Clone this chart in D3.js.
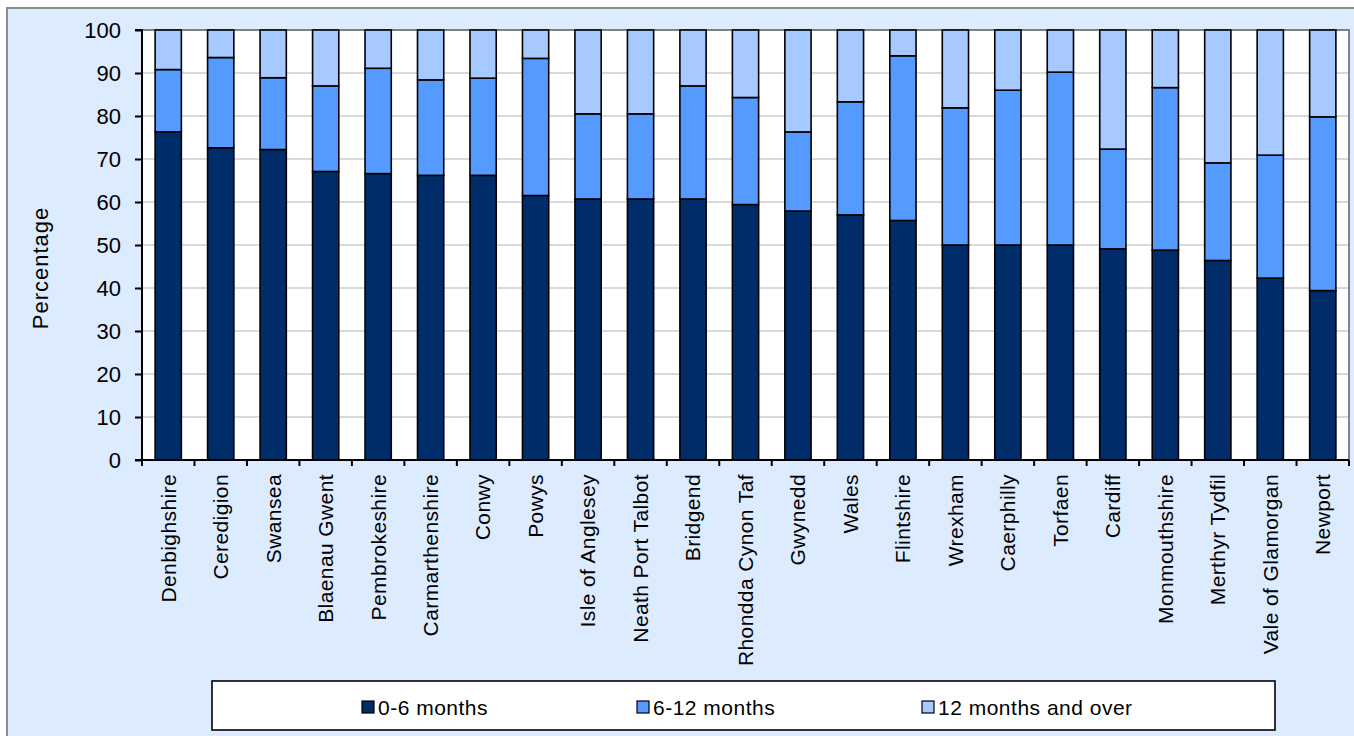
<!DOCTYPE html>
<html>
<head>
<meta charset="utf-8">
<script src="https://cdn.jsdelivr.net/npm/d3@7"></script>
<style>
  body { margin: 0; background: #fff; }
  text { font-family: Arial, "Liberation Sans", sans-serif; fill: #000; }
</style>
</head>
<body>
<svg id="chart"></svg>
<script>
var w = 1354;
var h = 736;

// data
var areas = ["Denbighshire", "Ceredigion", "Swansea", "Blaenau Gwent", "Pembrokeshire",
  "Carmarthenshire", "Conwy", "Powys", "Isle of Anglesey", "Neath Port Talbot", "Bridgend",
  "Rhondda Cynon Taf", "Gwynedd", "Wales", "Flintshire", "Wrexham", "Caerphilly", "Torfaen",
  "Cardiff", "Monmouthshire", "Merthyr Tydfil", "Vale of Glamorgan", "Newport"];
var m0_6 = [76.3, 72.6, 72.2, 67.1, 66.6, 66.2, 66.2, 61.5, 60.7, 60.7, 60.7, 59.4, 57.9,
  57.0, 55.7, 50.0, 50.0, 50.0, 49.1, 48.8, 46.4, 42.3, 39.4];
var m6_12 = [14.5, 21.0, 16.7, 19.9, 24.5, 22.2, 22.6, 31.9, 19.8, 19.8, 26.3, 24.9, 18.4,
  26.3, 38.3, 31.9, 36.0, 40.2, 23.2, 37.8, 22.7, 28.6, 40.4];
var m12plus = m0_6.map((d, i) => +(100 - d - m6_12[i]).toFixed(1));
var seriesNames = ["0-6 months", "6-12 months", "12 months and over"];
var colors = ["#002D6A", "#559BFF", "#A6CAFF"];
var yTicks = [0, 10, 20, 30, 40, 50, 60, 70, 80, 90, 100];

var pLeft = 142, pRight = 1349, pTop = 30, pBottom = 460;

let svg = d3.select("#chart")
    .attr("width", w)
    .attr("height", h);

// outer chart area
svg.append("rect")
    .attr("x", 7).attr("y", 8)
    .attr("width", w).attr("height", h)
    .attr("fill", "#DDEBFF")
    .attr("stroke", "#8c8c8c")
    .attr("stroke-width", 2);

let xScale = d3.scaleBand()
    .domain(areas)
    .range([pLeft, pRight])
    .paddingInner(0.5)
    .paddingOuter(0.25);
let yScale = d3.scaleLinear()
    .domain([0, 100])
    .range([pBottom, pTop]);

// plot area
svg.append("rect")
    .attr("x", pLeft).attr("y", pTop)
    .attr("width", pRight - pLeft).attr("height", pBottom - pTop)
    .attr("fill", "#fff");
svg.append("path")
    .attr("d", `M${pLeft},${pTop}H${pRight}V${pBottom}`)
    .attr("fill", "none")
    .attr("stroke", "#808080")
    .attr("stroke-width", 2);

// gridlines
svg.append("g")
    .selectAll("line")
    .data(yTicks.filter(d => d > 0 && d < 100))
    .join("line")
    .attr("x1", pLeft).attr("x2", pRight - 1)
    .attr("y1", d => yScale(d)).attr("y2", d => yScale(d))
    .attr("stroke", "#d9d9d9")
    .attr("stroke-width", 2);

// stacked bars
let table = areas.map((a, i) => ({ area: a, s0: m0_6[i], s1: m6_12[i], s2: m12plus[i] }));
let stack = d3.stack().keys(["s0", "s1", "s2"])(table);

svg.append("g")
    .selectAll("g")
    .data(stack)
    .join("g")
    .attr("fill", (d, i) => colors[i])
    .selectAll("rect")
    .data(d => d)
    .join("rect")
    .attr("x", d => xScale(d.data.area))
    .attr("width", xScale.bandwidth())
    .attr("y", d => yScale(d[1]))
    .attr("height", d => yScale(d[0]) - yScale(d[1]))
    .attr("stroke", "#000")
    .attr("stroke-width", 1.6);

// y axis
let yAxis = d3.axisLeft(yScale)
    .tickValues(yTicks)
    .tickSize(7)
    .tickPadding(14);
let gy = svg.append("g")
    .attr("transform", `translate(${pLeft},0)`)
    .call(yAxis);
gy.selectAll("text").style("font-size", "22px").attr("dy", "0.36em");
gy.selectAll("line, path").attr("stroke", "#000").attr("stroke-width", 2);
gy.select(".domain").attr("d", `M-7,${pBottom}H0V${pTop}H-7`);

// x axis with ticks on band boundaries
svg.append("line")
    .attr("x1", pLeft - 7).attr("x2", pRight)
    .attr("y1", pBottom).attr("y2", pBottom)
    .attr("stroke", "#000").attr("stroke-width", 2);
let step = xScale.step();
let bounds = areas.map(a => xScale(a) - step * 0.25).concat([pRight]);
svg.append("g")
    .selectAll("line")
    .data(bounds)
    .join("line")
    .attr("x1", d => d).attr("x2", d => d)
    .attr("y1", pBottom).attr("y2", pBottom + 6)
    .attr("stroke", "#000").attr("stroke-width", 2);

svg.append("g")
    .selectAll("text")
    .data(areas)
    .join("text")
    .attr("transform", d => `translate(${xScale(d) + xScale.bandwidth() / 2},${pBottom + 14}) rotate(-90)`)
    .attr("text-anchor", "end")
    .attr("dy", "0.35em")
    .style("font-size", "21px")
    .style("letter-spacing", "0.4px")
    .text(d => d);

// y title
svg.append("text")
    .attr("transform", `translate(48, 268) rotate(-90)`)
    .attr("text-anchor", "middle")
    .style("font-size", "22px")
    .style("letter-spacing", "1px")
    .text("Percentage");

// legend
let lg = svg.append("g");
lg.append("rect")
    .attr("x", 212).attr("y", 681)
    .attr("width", 1063).attr("height", 49)
    .attr("fill", "#fff")
    .attr("stroke", "#000")
    .attr("stroke-width", 1.6);
let legX = [362, 637, 922];
let items = lg.selectAll("g.item")
    .data(seriesNames)
    .join("g")
    .attr("class", "item")
    .attr("transform", (d, i) => `translate(${legX[i]},707)`);
items.append("rect")
    .attr("x", 0).attr("y", -6)
    .attr("width", 12).attr("height", 12)
    .attr("fill", (d, i) => colors[i])
    .attr("stroke", "#000")
    .attr("stroke-width", 1.2);
items.append("text")
    .attr("x", 16)
    .attr("dy", "0.36em")
    .style("font-size", "21px")
    .style("letter-spacing", "0.5px")
    .text(d => d);
</script>
</body>
</html>
